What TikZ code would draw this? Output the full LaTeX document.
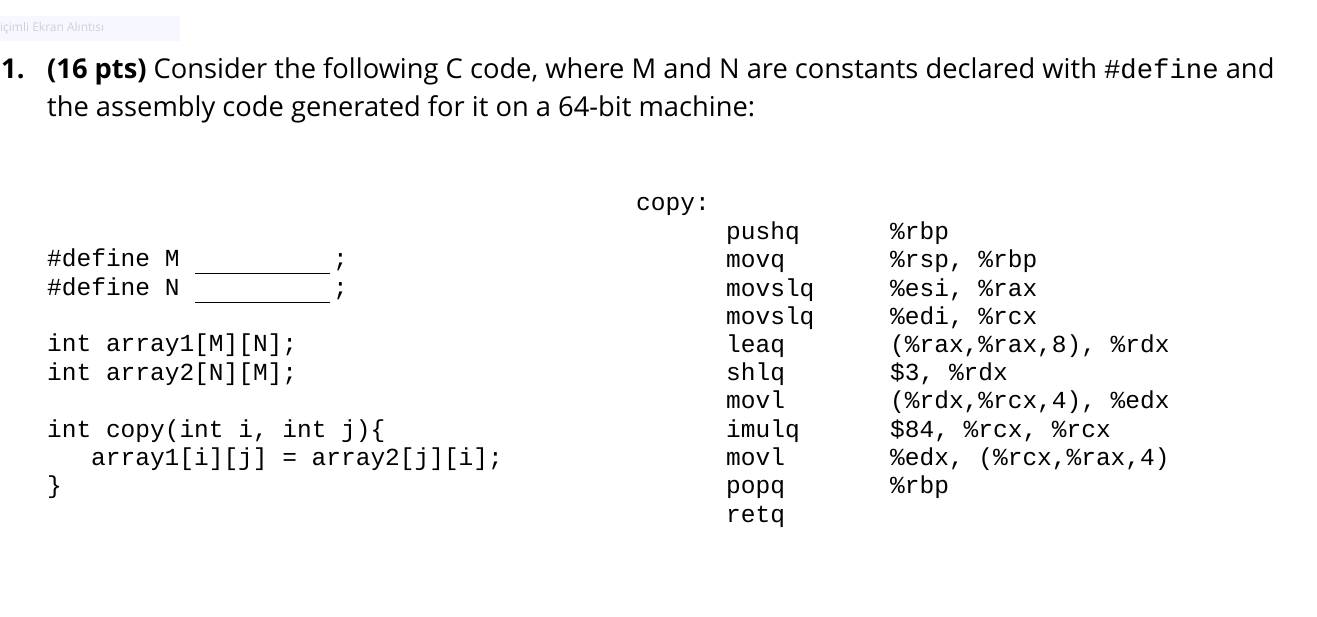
\documentclass[tikz,border=0pt]{standalone}
\usepackage{fontspec}
\setmainfont{Open Sans}
\newfontfamily\codefont{Liberation Mono}
\begin{document}
\begin{tikzpicture}[x=1pt,y=-1pt,
  code/.style={anchor=west,inner sep=0pt,text height=16pt,text depth=5pt,font=\codefont\fontsize{24.5}{26}\selectfont},
  title/.style={anchor=west,inner sep=0pt,text height=19pt,text depth=6pt,font=\fontsize{27.3}{30}\selectfont}]
\useasboundingbox (0,0) rectangle (1317,616);
\fill[blue!3] (0,16) rectangle (180,41);
\node[anchor=west,inner sep=0pt,text=black!18,font=\fontsize{12}{14}\selectfont] (cap) at (0,28) {içimli Ekran Alıntısı};
\node[title] (num) at (1,72) {\textbf{1.}};
\node[title] (t1) at (47,72) {\textbf{(16 pts)} Consider the following C code, where M and N are constants declared with {\codefont\#define} and};
\node[title] (t2) at (47,110) {the assembly code generated for it on a 64-bit machine:};
% C code
\node[code] (d1) at (47,261) {\#define M};
\node[code] (d2) at (47,290) {\#define N};
\coordinate (u1a) at (195,273); \coordinate (u1b) at (330,273);
\coordinate (u2a) at (195,302); \coordinate (u2b) at (330,302);
\draw[line width=0.8pt] (u1a) -- (u1b);
\draw[line width=0.8pt] (u2a) -- (u2b);
\node[code] (s1) at (333,261) {;};
\node[code] (s2) at (333,290) {;};
\node[code] (a1) at (47,346) {int array1[M][N];};
\node[code] (a2) at (47,375) {int array2[N][M];};
\node[code] (f1) at (47,432) {int copy(int i, int j)\{};
\node[code] (f2) at (91,460) {array1[i][j] = array2[j][i];};
\node[code] (f3) at (47,488) {\}};
% asm
\node[code] (lbl) at (636,205) {copy:};
\foreach \ins/\op/\y [count=\k] in {pushq/\%rbp/234, movq/{\%rsp, \%rbp}/262, movslq/{\%esi, \%rax}/291, movslq/{\%edi, \%rcx}/319, leaq/{(\%rax,\%rax,8), \%rdx}/347, shlq/{\$3, \%rdx}/375, movl/{(\%rdx,\%rcx,4), \%edx}/403, imulq/{\$84, \%rcx, \%rcx}/432, movl/{\%edx, (\%rcx,\%rax,4)}/460, popq/\%rbp/488}{
  \node[code] (i\k) at (726,\y) {\ins};
  \node[code] (o\k) at (890,\y) {\op};
}
\node[code] (i11) at (726,517) {retq};
\end{tikzpicture}
\end{document}
